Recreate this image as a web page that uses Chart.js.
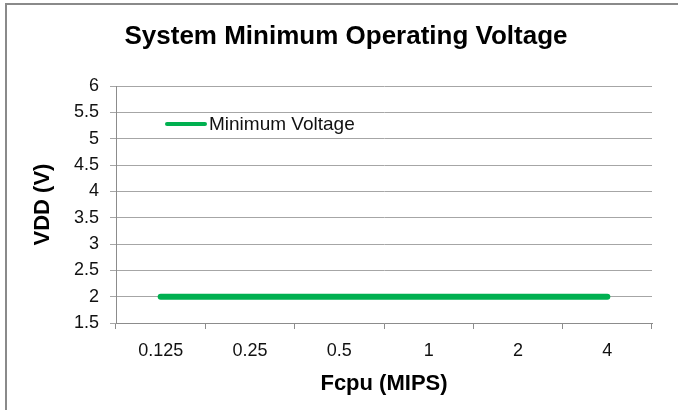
<!DOCTYPE html>
<html>
<head>
<meta charset="utf-8">
<script src="https://cdn.jsdelivr.net/npm/chart.js@4.4.0/dist/chart.umd.min.js"></script>
<style>
    html, body { margin: 0; padding: 0; background: #fff; }
    #frame {
        position: absolute;
        left: 5px;
        top: 3px;
        width: 671px;
        height: 405px;
        border-left: 2px solid #8a8a8a;
        border-top: 2px solid #8a8a8a;
    }
    #chart { display: block; }
</style>
</head>
<body>
<div id="frame">
    <canvas id="chart" width="671" height="405"></canvas>
</div>
<script>
// Frequencies along the x axis (MIPS)
var fcpuLabels = ['0.125', '0.25', '0.5', '1', '2', '4'];
// Minimum VDD at each frequency (V)
var minVoltage = [2, 2, 2, 2, 2, 2];
// Y axis range
var vddMin = 1.5;
var vddMax = 6;
var vddStep = 0.5;

var FONT = '"Liberation Sans", Arial, sans-serif';
var GREEN = '#00b050';

// Title centred over the whole frame
var titlePlugin = {
    id: 'frameTitle',
    afterDraw: function (chart) {
        var ctx = chart.ctx;
        ctx.save();
        ctx.font = 'bold 26px ' + FONT;
        ctx.fillStyle = '#000';
        ctx.textAlign = 'center';
        ctx.textBaseline = 'alphabetic';
        ctx.fillText('System Minimum Operating Voltage', 339, 39);
        ctx.restore();
    }
};

// Legend drawn inside the plot area, top left
var innerLegend = {
    id: 'innerLegend',
    afterDraw: function (chart) {
        var ctx = chart.ctx;
        var ds = chart.data.datasets[0];
        var x = 160, y = 119;
        ctx.save();
        ctx.strokeStyle = ds.borderColor;
        ctx.lineWidth = 4;
        ctx.lineCap = 'round';
        ctx.beginPath();
        ctx.moveTo(x, y);
        ctx.lineTo(x + 38, y);
        ctx.stroke();
        ctx.font = '19px ' + FONT;
        ctx.fillStyle = '#111';
        ctx.textAlign = 'left';
        ctx.textBaseline = 'middle';
        ctx.fillText(ds.label, x + 42, y + 1);
        ctx.restore();
    }
};

var ctx = document.getElementById('chart').getContext('2d');
var voltageChart = new Chart(ctx, {
    type: 'line',
    data: {
        labels: fcpuLabels,
        datasets: [{
            label: 'Minimum Voltage',
            data: minVoltage,
            borderColor: GREEN,
            backgroundColor: GREEN,
            borderWidth: 6,
            borderCapStyle: 'round',
            pointRadius: 0,
            pointHoverRadius: 0,
            fill: false,
            tension: 0
        }]
    },
    options: {
        responsive: false,
        animation: false,
        layout: {
            padding: { left: 0, right: 26, top: 81, bottom: 0 }
        },
        plugins: {
            legend: { display: false },
            title: { display: false },
            tooltip: { enabled: false }
        },
        scales: {
            x: {
                offset: true,
                grid: {
                    offset: true,
                    drawOnChartArea: false,
                    drawTicks: true,
                    tickLength: 6,
                    color: '#8c8c8c'
                },
                border: { display: true, color: '#8c8c8c' },
                ticks: {
                    color: '#111',
                    font: { family: FONT, size: 18 },
                    padding: 11,
                    maxRotation: 0
                },
                title: {
                    display: true,
                    text: 'Fcpu (MIPS)',
                    color: '#000',
                    font: { family: FONT, size: 22, weight: 'bold' },
                    padding: { top: 0, bottom: 13 }
                },
                afterFit: function (scale) { scale.height = 87; }
            },
            y: {
                min: vddMin,
                max: vddMax,
                grid: {
                    color: '#a6a6a6',
                    tickLength: 6,
                    drawTicks: true
                },
                border: { display: true, color: '#8c8c8c' },
                ticks: {
                    stepSize: vddStep,
                    color: '#111',
                    font: { family: FONT, size: 18 },
                    padding: 11,
                    callback: function (value) { return String(value); }
                },
                title: {
                    display: true,
                    text: 'VDD (V)',
                    color: '#000',
                    font: { family: FONT, size: 22, weight: 'bold' },
                    padding: { top: 23, bottom: 0 }
                },
                afterFit: function (scale) { scale.width = 109; }
            }
        }
    },
    plugins: [titlePlugin, innerLegend]
});
</script>
</body>
</html>
